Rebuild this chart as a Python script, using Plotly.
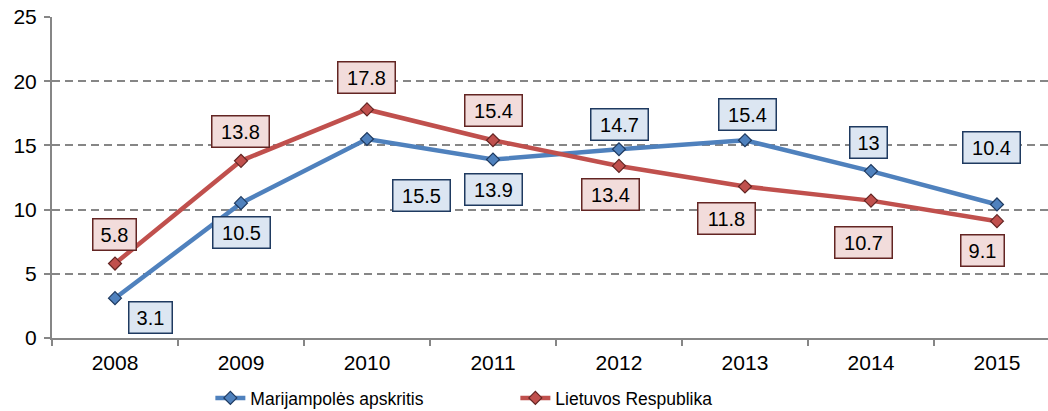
import plotly.graph_objects as go

years = ["2008", "2009", "2010", "2011", "2012", "2013", "2014", "2015"]
marijampole = [3.1, 10.5, 15.5, 13.9, 14.7, 15.4, 13.0, 10.4]
lietuva = [5.8, 13.8, 17.8, 15.4, 13.4, 11.8, 10.7, 9.1]
name_m = "Marijampolės apskritis"
name_l = "Lietuvos Respublika"

# label offsets in pixels (dx, dy up)
off_m = [(35, -19), (1, -29), (55, -57), (1, -30), (1, 25), (3, 26), (-2, 29), (-5, 57)]
off_l = [(-1, 29), (0, 29), (0, 32), (1, 30), (-8, -29), (-18, -32), (-7, -42), (-14, -29)]

BLUE = "#4F81BD"
RED = "#C0504D"
FONT = "Liberation Sans, Arial, sans-serif"

fig = go.Figure()
fig.add_trace(go.Scatter(
    x=years, y=marijampole, name=name_m, mode="lines+markers",
    line=dict(color=BLUE, width=4.5),
    marker=dict(symbol="diamond", size=10, color=BLUE, line=dict(color="#1F3A60", width=1.2)),
))
fig.add_trace(go.Scatter(
    x=years, y=lietuva, name=name_l, mode="lines+markers",
    line=dict(color=RED, width=4.5),
    marker=dict(symbol="diamond", size=10, color=RED, line=dict(color="#632523", width=1.2)),
))

def label_width(t):
    return {2: 30, 3: 36, 4: 50}.get(len(t), 50)

annotations = []
for vals, offs, fill, border in [(marijampole, off_m, "#DCE6F2", "#1F3A60"),
                                 (lietuva, off_l, "#F2DCDB", "#632523")]:
    for i, (v, (dx, dy)) in enumerate(zip(vals, offs)):
        t = f"{v:g}"
        annotations.append(dict(
            x=i, y=v, xref="x", yref="y", text=t, showarrow=False,
            xshift=dx, yshift=dy, font=dict(family=FONT, size=20, color="#000000"),
            bgcolor=fill, bordercolor=border, borderwidth=1.5, borderpad=3,
            width=label_width(t), height=24, align="center",
        ))

fig.update_layout(
    width=1048, height=411,
    margin=dict(l=52, r=0, t=17, b=73, autoexpand=False),
    paper_bgcolor="white", plot_bgcolor="white",
    font=dict(family=FONT, size=20, color="#000000"),
    showlegend=True,
    legend=dict(orientation="h", x=0.159, xanchor="left", y=-0.187, yanchor="middle",
                font=dict(family=FONT, size=17.5),
                entrywidth=260, entrywidthmode="pixels", bgcolor="rgba(0,0,0,0)",
                itemclick=False),
    annotations=annotations,
)
fig.update_xaxes(
    type="category", range=[-0.5, 7.405], showgrid=False, automargin=False,
    showline=True, linecolor="#868686", linewidth=2,
    ticks="outside", tickson="boundaries", ticklen=6, tickcolor="#868686", tickwidth=2,
    tickfont=dict(family=FONT, size=21, color="#000000"), ticklabelstandoff=5,
    fixedrange=True,
)
fig.update_yaxes(
    range=[0, 25], dtick=5, tick0=0, automargin=False,
    showgrid=True, gridcolor="#868686", gridwidth=1.5, griddash="8px,5px",
    showline=True, linecolor="#868686", linewidth=2,
    ticks="outside", ticklen=6, tickcolor="#868686", tickwidth=2,
    tickfont=dict(family=FONT, size=21, color="#000000"), ticklabelstandoff=3,
    zeroline=False, fixedrange=True,
)

fig.write_html("out.html", config={"displayModeBar": False},
               post_script="document.body.style.margin='0';document.body.style.overflow='hidden';")
